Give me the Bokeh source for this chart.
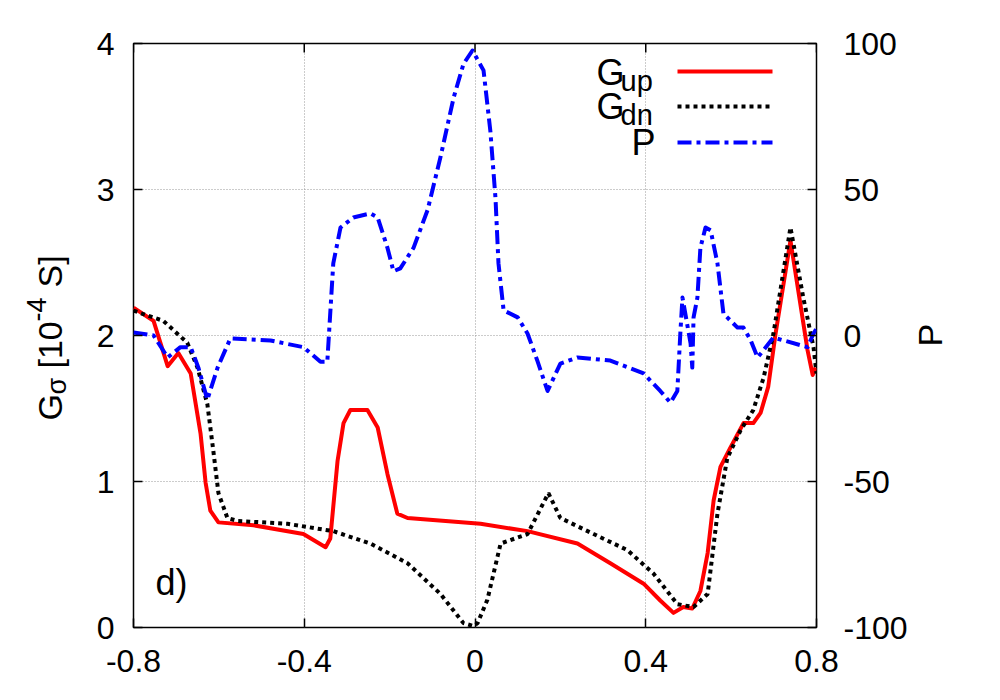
import math
from bokeh.plotting import figure
from bokeh.layouts import row
from bokeh.models import Range1d, LinearAxis, FixedTicker, Label, Arrow
from bokeh.core.properties import value
from bokeh.embed import file_html
from bokeh.resources import INLINE

# ---------------- data ----------------
gup_x = [-0.8, -0.753, -0.72, -0.695, -0.666, -0.643, -0.631, -0.62, -0.601, -0.519,
         -0.402, -0.35, -0.339, -0.322, -0.308, -0.292, -0.252, -0.228, -0.205, -0.182,
         -0.158, 0.013, 0.123, 0.24, 0.317, 0.395, 0.434, 0.465, 0.488, 0.509, 0.528,
         0.545, 0.559, 0.575, 0.598, 0.629, 0.652, 0.669, 0.687, 0.704, 0.739,
         0.779, 0.791, 0.798]
gup_y = [2.19, 2.10, 1.79, 1.88, 1.74, 1.33, 0.99, 0.80, 0.72, 0.70,
         0.64, 0.55, 0.61, 1.14, 1.40, 1.49, 1.49, 1.37, 1.05, 0.78,
         0.75, 0.71, 0.66, 0.575, 0.44, 0.30, 0.185, 0.10, 0.14, 0.13, 0.25,
         0.51, 0.87, 1.10, 1.23, 1.40, 1.40, 1.47, 1.65, 2.01, 2.65,
         1.90, 1.73, 1.78]

gdn_x = [-0.8, -0.73, -0.674, -0.65, -0.627, -0.613, -0.601, -0.58, -0.556, -0.439,
         -0.332, -0.245, -0.158, -0.081, -0.027, -0.004, 0.006, 0.029, 0.06, 0.123,
         0.172, 0.2, 0.278, 0.357, 0.418, 0.474, 0.512, 0.545, 0.568, 0.591,
         0.622, 0.652, 0.676, 0.699, 0.739, 0.769, 0.793, 0.8]
gdn_y = [2.17, 2.10, 1.95, 1.78, 1.53, 1.21, 0.92, 0.75, 0.73, 0.71,
         0.66, 0.575, 0.44, 0.23, 0.03, 0.01, 0.03, 0.19, 0.575, 0.64,
         0.92, 0.75, 0.64, 0.53, 0.37, 0.16, 0.14, 0.23, 0.78, 1.16,
         1.35, 1.49, 1.71, 2.01, 2.74, 2.26, 1.92, 1.74]

p_x = [-0.8, -0.753, -0.72, -0.69, -0.666, -0.648, -0.627, -0.603, -0.573, -0.479,
       -0.402, -0.362, -0.346, -0.332, -0.315, -0.285, -0.245, -0.228, -0.205, -0.191,
       -0.175, -0.144, -0.111, -0.081, -0.05, -0.027, -0.006, 0.02, 0.036, 0.048,
       0.055, 0.067, 0.1, 0.123, 0.146, 0.17, 0.2, 0.24, 0.317, 0.395,
       0.434, 0.458, 0.474, 0.481, 0.486, 0.505, 0.509, 0.512, 0.521, 0.528,
       0.54, 0.552, 0.568, 0.582, 0.615, 0.629, 0.646, 0.662, 0.676, 0.699,
       0.779, 0.793, 0.8]
p_y = [1, 0, -7.5, -4, -4, -11, -22, -11, -1, -1.7,
       -4, -9, -9, 24.7, 37, 40.4, 41.8, 40.4, 30, 22,
       23, 30, 43, 61, 81.5, 93, 97.6, 90.8, 70, 47,
       24.7, 8.6, 6.2, 0.7, -8.6, -19, -9.6, -7.5, -8.6, -13,
       -19, -23, -19, 0.7, 13, -2.7, -11, 6.2, 13, 30,
       37, 36, 24.7, 7.5, 2.7, 2.7, -1.7, -7.5, -5, -0.7,
       -4, 0.7, 2.4]

x_ticks = [-0.8, -0.4, 0, 0.4, 0.8]
x_tick_labels = ["-0.8", "-0.4", "0", "0.4", "0.8"]
g_ticks = [0, 1, 2, 3, 4]
g_tick_labels = ["0", "1", "2", "3", "4"]
p_ticks = [-100, -50, 0, 50, 100]
p_tick_labels = ["-100", "-50", "0", "50", "100"]

FONT = "Liberation Sans"
FS = 32       # tick labels
TFS = 34      # axis titles
TSFS = 27     # title sub/superscripts
KFS = 36      # legend
KSFS = 29     # legend subscripts

H = 692
BL, FW, BR = 50, 683, 94
BT, FH, BB = 43, 584, 65
LW = 83       # left title strip
RW = 88       # right title strip

# ---------------- main figure ----------------
p = figure(width=BL + FW + BR, height=H, frame_width=FW, frame_height=FH,
           min_border_left=BL, min_border_right=BR, min_border_top=BT,
           min_border_bottom=BB,
           x_range=Range1d(-0.8, 0.8), y_range=Range1d(0, 4),
           output_backend="svg", toolbar_location=None)
p.extra_y_ranges = {"P": Range1d(-100, 100)}
p.background_fill_color = "white"
p.border_fill_color = "white"
p.outline_line_color = "black"
p.outline_line_width = 1.5

ax_b = p.below[0]
ax_l = p.left[0]
ax_b.ticker = FixedTicker(ticks=x_ticks)
ax_b.major_label_overrides = {t: l for t, l in zip(x_ticks, x_tick_labels)}
ax_l.ticker = FixedTicker(ticks=g_ticks)
ax_l.major_label_overrides = {t: l for t, l in zip(g_ticks, g_tick_labels)}

ax_r = LinearAxis(y_range_name="P", ticker=FixedTicker(ticks=p_ticks))
ax_r.major_label_overrides = {t: l for t, l in zip(p_ticks, p_tick_labels)}
p.add_layout(ax_r, "right")

for ax in [ax_b, ax_l, ax_r]:
    ax.axis_line_color = None
    ax.major_tick_in = 9
    ax.major_tick_out = 0
    ax.major_tick_line_color = "black"
    ax.major_tick_line_width = 1.5
    ax.minor_tick_line_color = None
    ax.major_label_text_font = FONT
    ax.major_label_text_font_size = f"{FS}px"
    ax.major_label_text_color = "black"
ax_b.major_label_standoff = 22
ax_l.major_label_standoff = 19
ax_r.major_label_standoff = 27

p.xgrid.ticker = FixedTicker(ticks=x_ticks)
p.ygrid.ticker = FixedTicker(ticks=g_ticks)
for g in [p.xgrid[0], p.ygrid[0]]:
    g.grid_line_color = "#999999"
    g.grid_line_dash = "1 2"
    g.grid_line_width = 1

# mirrored ticks on the top edge
tick_len = 9 * 4 / FH
p.segment(x0=x_ticks, y0=[4] * len(x_ticks), x1=x_ticks,
          y1=[4 - tick_len] * len(x_ticks), line_color="black", line_width=1.5)

# ---------------- curves ----------------
p.line(gup_x, gup_y, line_color="#ff0000", line_width=4, line_join="round")
p.line(gdn_x, gdn_y, line_color="black", line_width=4, line_dash="4 4")
p.line(p_x, p_y, y_range_name="P", line_color="#0000ff", line_width=4,
       line_dash="14 5 4 5", line_join="round")

# ---------------- legend (text left of sample) ----------------
def lab(x, y, text, size, align="left"):
    p.add_layout(Label(x=x, y=y, x_units="screen", y_units="screen", text=text,
                       text_font=FONT, text_font_size=f"{size}px", text_color="black",
                       text_align=align, text_baseline="alphabetic"))

lab(463, 555, "G", KFS)
lab(487, 547, "up", KSFS)
lab(463, 521, "G", KFS)
lab(487, 513, "dn", KSFS)
lab(522, 485, "P", KFS, align="right")

legend_styles = [("#ff0000", None, 556), ("black", "4 4", 521), ("#0000ff", "14 5 4 5", 485)]
for col, dash, yy in legend_styles:
    kw = dict(x_start=544, y_start=yy, x_end=639, y_end=yy, start_units="screen",
              end_units="screen", end=None, line_color=col, line_width=4)
    if dash:
        kw["line_dash"] = dash
    p.add_layout(Arrow(**kw))

lab(22, 45, "d)", KFS)

# ---------------- side strips holding rotated titles ----------------
def strip(w):
    f = figure(width=w, height=H, frame_width=w, frame_height=FH,
               x_range=Range1d(0, w), y_range=Range1d(0, FH),
               min_border_left=0, min_border_right=0,
               min_border_top=BT, min_border_bottom=BB,
               x_axis_type=None, y_axis_type=None,
               output_backend="svg", toolbar_location=None)
    f.outline_line_color = None
    f.grid.visible = False
    f.background_fill_color = "white"
    f.border_fill_color = "white"
    return f

A = math.pi / 2
def rtxt(f, x, y, t, size):
    f.text(x=[x], y=[y], text=[t], angle=A, text_font=value(FONT),
           text_font_size=value(f"{size}px"), text_align="left",
           text_baseline="alphabetic", text_color="black")

# title: G_sigma [10^-4 S], reading bottom-to-top
left = strip(LW)
rtxt(left, 49, 207, "G", TFS)
rtxt(left, 56, 233, "σ", TSFS)
rtxt(left, 49, 259, "[10", TFS)
rtxt(left, 36, 306, "-4", TSFS)
rtxt(left, 49, 340, "S]", TFS)

right = strip(RW)
rtxt(right, 19, 281, "P", TFS)

layout = row(left, p, right)
open("out.html", "w").write(file_html(layout, INLINE))
